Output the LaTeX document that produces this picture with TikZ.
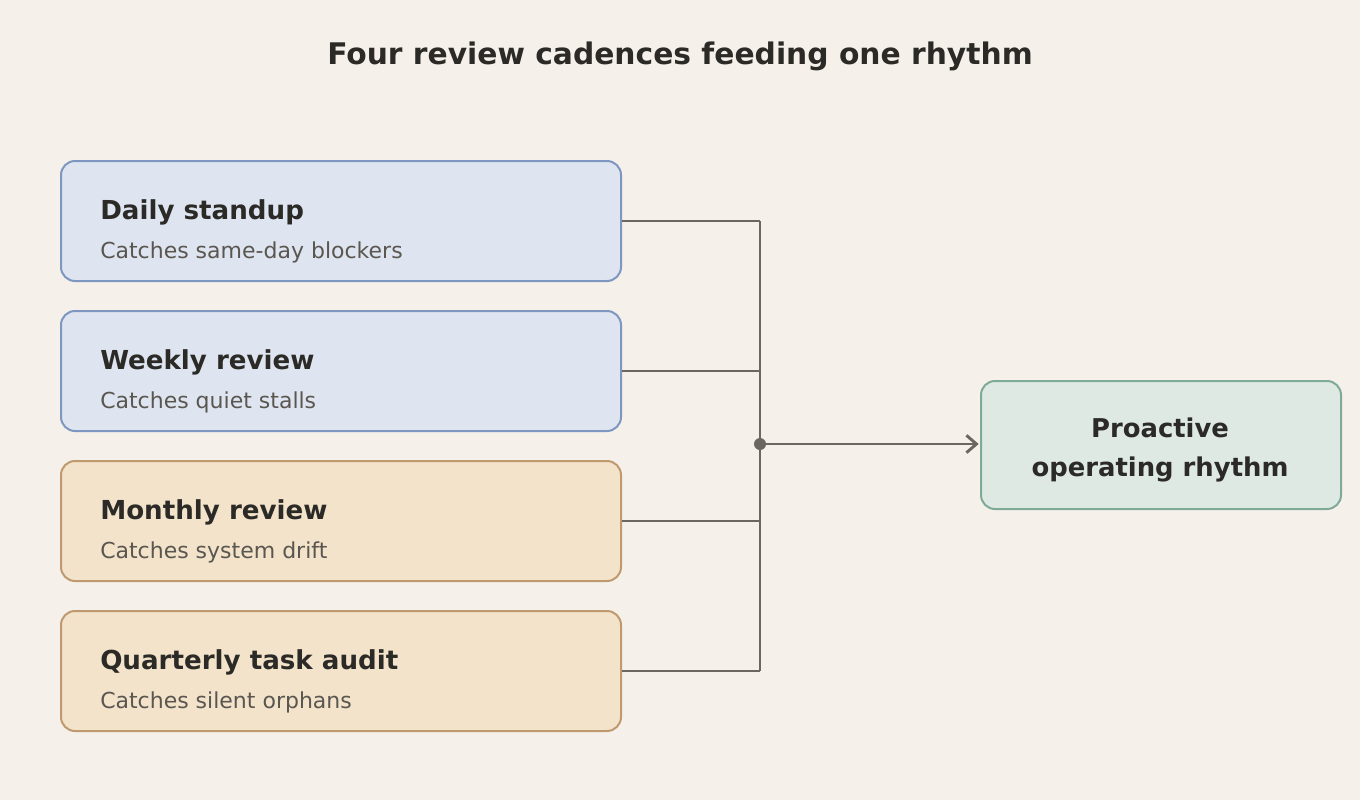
\documentclass[tikz,border=0pt]{standalone}
\usepackage{fontspec}
\setmainfont{DejaVu Sans}
\usepackage{xcolor}
\usetikzlibrary{arrows.meta, positioning, calc}

\definecolor{paper}{HTML}{F5F0EA}
\definecolor{ink}{HTML}{2B2A26}
\definecolor{muted}{HTML}{5A5650}
\definecolor{wirecol}{HTML}{6B6660}
\definecolor{bluefill}{HTML}{DEE5F0}
\definecolor{blueline}{HTML}{7D97C0}
\definecolor{tanfill}{HTML}{F2E3CA}
\definecolor{tanline}{HTML}{BF9A6E}
\definecolor{greenfill}{HTML}{DEE9E4}
\definecolor{greenline}{HTML}{7FAA98}

\begin{document}
\begin{tikzpicture}[x=0.75pt, y=-0.75pt,
    cadence/.style={draw, rounded corners=10.5pt, line width=1.5pt, anchor=north west,
        minimum width=420pt, minimum height=90pt, inner sep=0pt},
    head/.style={anchor=base west, inner sep=0pt, text=ink, font=\bfseries\fontsize{19.6}{24}\selectfont},
    sub/.style={anchor=base west, inner sep=0pt, text=muted, font=\fontsize{16.5}{20}\selectfont},
    wire/.style={draw=wirecol, line width=2.2pt},
    >={Straight Barb[length=7.5pt, width=13pt, line width=2.2pt]}]
    % Background
    \fill[paper] (0,0) rectangle (1360,800);
    \useasboundingbox (0,0) rectangle (1360,800);

    % Title
    \node[text=ink, font=\bfseries\fontsize{22.3}{26}\selectfont, anchor=base, inner sep=0pt] (title) at (680,64) {Four review cadences feeding one rhythm};

    % Cadence boxes
    \node[cadence, fill=bluefill, draw=blueline] (daily) at (60,160) {};
    \node[cadence, fill=bluefill, draw=blueline] (weekly) at (60,310) {};
    \node[cadence, fill=tanfill, draw=tanline] (monthly) at (60,460) {};
    \node[cadence, fill=tanfill, draw=tanline] (quarterly) at (60,610) {};

    % Box texts
    \node[head] (dailyhead) at (100,219) {Daily standup};
    \node[sub] (dailysub) at (100,258) {Catches same-day blockers};
    \node[head] (weeklyhead) at (100,369) {Weekly review};
    \node[sub] (weeklysub) at (100,408) {Catches quiet stalls};
    \node[head] (monthlyhead) at (100,519) {Monthly review};
    \node[sub] (monthlysub) at (100,558) {Catches system drift};
    \node[head] (quarterlyhead) at (100,669) {Quarterly task audit};
    \node[sub] (quarterlysub) at (100,708) {Catches silent orphans};

    % Outcome
    \node[draw=greenline, fill=greenfill, rounded corners=10.5pt, line width=1.5pt,
        minimum width=270pt, minimum height=96pt, inner sep=0pt, anchor=north west] (rhythm) at (980,380) {};
    \node[text=ink, font=\bfseries\fontsize{19.4}{24}\selectfont, anchor=base, inner sep=0pt] (rhythmtop) at (1160,437) {Proactive};
    \node[text=ink, font=\bfseries\fontsize{19.4}{24}\selectfont, anchor=base, inner sep=0pt] (rhythmbot) at (1160,476) {operating rhythm};

    % Bus
    \coordinate (bus) at (760,444);
    \draw[wire] (daily.east) -- (daily.east -| bus);
    \draw[wire] (weekly.east) -- (weekly.east -| bus);
    \draw[wire] (monthly.east) -- (monthly.east -| bus);
    \draw[wire] (quarterly.east) -- (quarterly.east -| bus);
    \draw[wire] (daily.east -| bus) -- (quarterly.east -| bus);
    \fill[wirecol] (bus) circle (4.5pt);
    \draw[wire, ->] (bus) -- ([xshift=-1pt]bus -| rhythm.west);
\end{tikzpicture}
\end{document}
